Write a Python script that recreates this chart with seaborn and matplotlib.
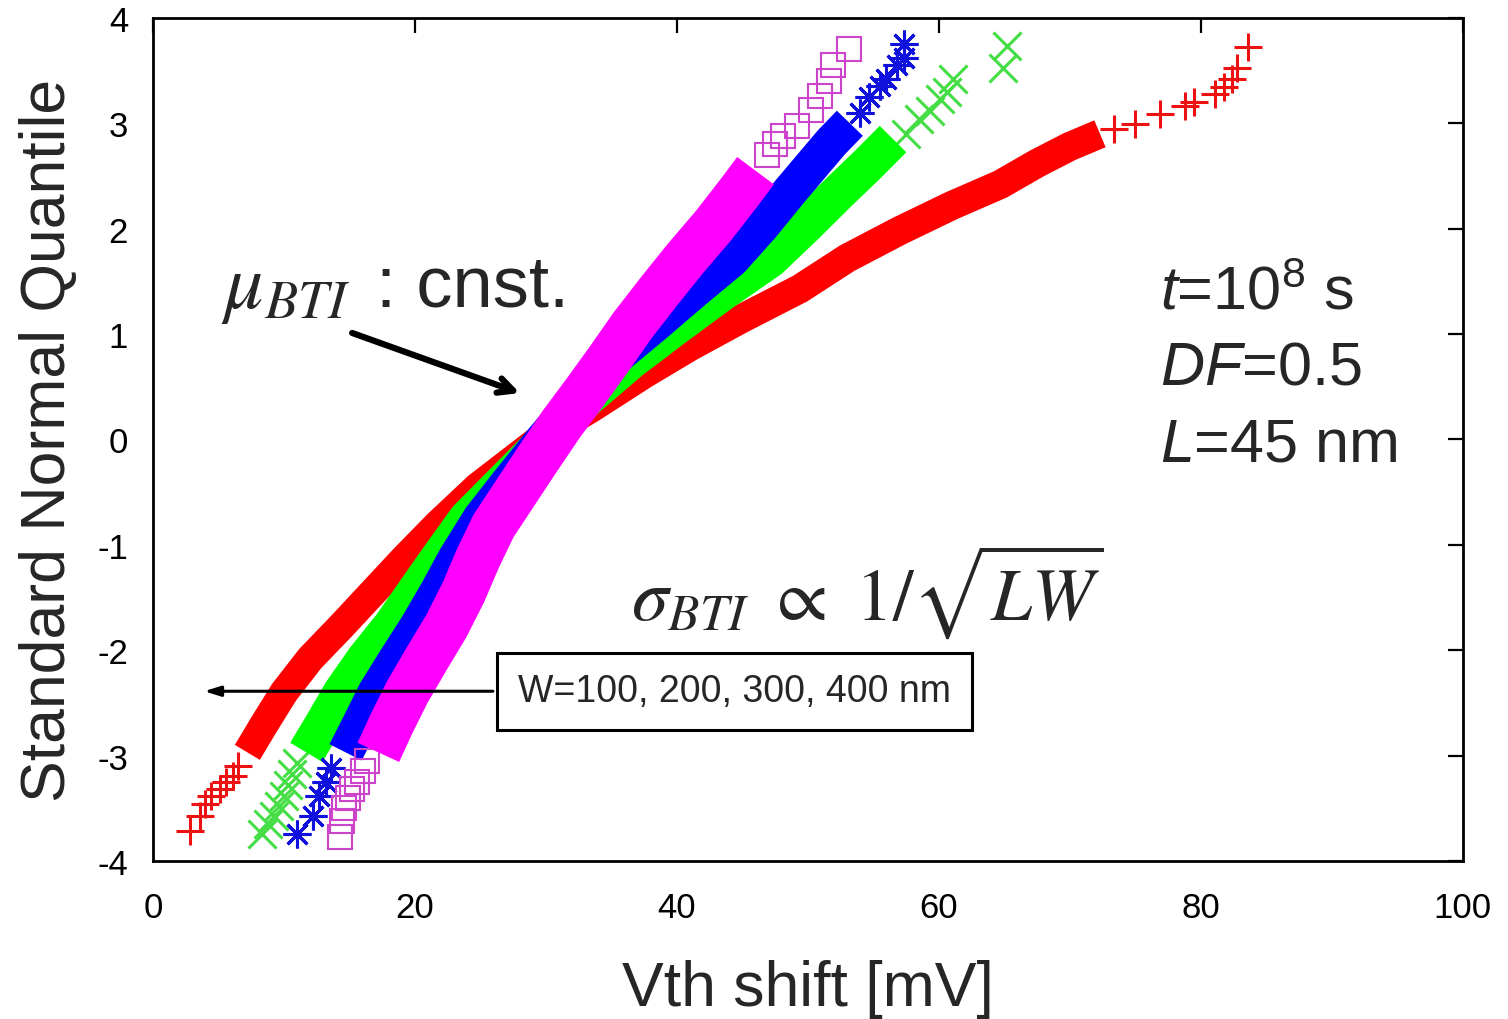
import matplotlib
matplotlib.use("Agg")
import matplotlib.pyplot as plt
import seaborn as sns
import numpy as np

# Vth shift [mV] and standard normal quantile
vth_w100 = [2.8, 3.6, 4.0, 4.4, 5.1, 5.6, 6.1, 6.5,
            7.2, 8.5, 10.0, 12.0, 14.4, 16.8, 19.2, 21.8, 24.8, 29.5, 33.5, 37.5, 41.0,
            45.0, 49.4, 53.0, 57.0, 61.0, 64.7, 67.5, 70.0, 72.3,
            73.4, 75.0, 76.9, 78.8, 79.5, 81.1, 81.8, 82.4, 82.8, 83.6]
q_w100 = [-3.72, -3.57, -3.46, -3.38, -3.32, -3.25, -3.19, -3.10,
          -2.97, -2.70, -2.40, -2.08, -1.77, -1.45, -1.13, -0.80, -0.45, 0.00, 0.30, 0.62, 0.88,
          1.15, 1.43, 1.72, 1.98, 2.22, 2.42, 2.62, 2.78, 2.90,
          2.95, 2.99, 3.09, 3.16, 3.20, 3.28, 3.34, 3.42, 3.52, 3.72]

vth_w200 = [8.3, 8.8, 9.2, 9.6, 10.0, 10.3, 10.6, 11.0,
            11.7, 13.0, 14.4, 16.2, 18.2, 20.0, 21.8, 24.0, 26.8, 30.0, 33.2, 36.5, 40.0,
            43.5, 47.1, 49.8, 52.4, 54.5, 56.5,
            57.5, 58.5, 59.3, 60.1, 60.6, 61.1, 64.9, 65.2]
q_w200 = [-3.74, -3.65, -3.57, -3.48, -3.38, -3.28, -3.18, -3.07,
          -2.97, -2.70, -2.40, -2.08, -1.77, -1.45, -1.13, -0.75, -0.40, 0.00, 0.40, 0.75, 1.08,
          1.40, 1.71, 2.03, 2.35, 2.60, 2.85,
          2.90, 3.04, 3.12, 3.23, 3.30, 3.42, 3.52, 3.73]

vth_w300 = [11.0, 12.2, 12.7, 13.2, 13.6,
            14.7, 15.8, 17.0, 18.6, 20.2, 21.7, 23.1, 25.0, 27.2, 29.8, 32.5, 35.0, 38.2,
            41.2, 44.2, 46.5, 48.6, 50.3, 51.8, 53.2,
            54.0, 54.7, 55.5, 56.0, 56.8, 57.3, 57.3]
q_w300 = [-3.74, -3.57, -3.38, -3.25, -3.12,
          -2.97, -2.70, -2.40, -2.08, -1.77, -1.45, -1.13, -0.75, -0.40, 0.00, 0.40, 0.75, 1.08,
          1.40, 1.71, 2.03, 2.35, 2.60, 2.82, 3.00,
          3.10, 3.25, 3.35, 3.42, 3.55, 3.62, 3.75]

vth_w400 = [14.3, 14.4, 14.6, 14.9, 15.2, 15.6, 16.0, 16.3,
            17.2, 18.2, 19.4, 20.9, 22.4, 23.7, 24.8, 26.0, 27.7, 29.4, 31.2, 33.0, 34.8,
            36.6, 38.6, 40.6, 42.8, 44.8, 46.0,
            46.9, 47.5, 48.1, 49.2, 50.2, 50.9, 51.6, 51.9, 53.1]
q_w400 = [-3.77, -3.62, -3.50, -3.40, -3.32, -3.25, -3.15, -3.05,
          -2.97, -2.70, -2.40, -2.08, -1.77, -1.45, -1.13, -0.82, -0.50, -0.18, 0.15, 0.45, 0.76,
          1.08, 1.40, 1.71, 2.03, 2.35, 2.55,
          2.70, 2.80, 2.88, 2.97, 3.13, 3.26, 3.40, 3.55, 3.70]

x_ticks = [0, 20, 40, 60, 80, 100]
y_ticks = [-4, -3, -2, -1, 0, 1, 2, 3, 4]

sns.set_theme(style="white")
plt.rcParams['font.family'] = ['Liberation Sans', 'DejaVu Sans']
plt.rcParams['mathtext.fontset'] = 'custom'
plt.rcParams['mathtext.rm'] = 'Liberation Sans'
plt.rcParams['mathtext.it'] = 'Liberation Sans:italic'
plt.rcParams['axes.unicode_minus'] = False

fig = plt.figure(figsize=(15.08, 10.2), dpi=100)
ax = fig.add_axes([0.1015, 0.155, 0.8685, 0.8265])

# (vth, q, band colour, marker, marker colour, band width in pt, band q-range)
series = [
    (vth_w100, q_w100, "#ff0000", "+", "#ee1111", 21, (-3.0, 2.9)),
    (vth_w200, q_w200, "#00ff00", "x", "#44dd44", 27, (-3.0, 2.86)),
    (vth_w300, q_w300, "#0000ff", (8, 2, 0), "#1111dd", 26, (-3.0, 3.0)),
    (vth_w400, q_w400, "#ff00ff", "s", "#cc44cc", 33, (-3.0, 2.56)),
]

for i, (vx, qy, col, mk, mcol, bw, (lo, hi)) in enumerate(series):
    vx = np.array(vx)
    qy = np.array(qy)
    band = (qy >= lo) & (qy <= hi)
    tail = ~band
    if mk == "s":
        sns.lineplot(x=vx[tail], y=qy[tail], estimator=None, sort=False, ax=ax, linestyle="",
                     marker="s", markersize=17, markerfacecolor="none",
                     markeredgecolor=mcol, markeredgewidth=1.5, zorder=2 + i)
    else:
        sns.lineplot(x=vx[tail], y=qy[tail], estimator=None, sort=False, ax=ax, linestyle="",
                     marker=mk, markersize=20, markeredgecolor=mcol,
                     markeredgewidth=2.2, zorder=2 + i)
    sns.lineplot(x=vx[band], y=qy[band], estimator=None, sort=False, ax=ax,
                 color=col, linewidth=bw, solid_capstyle="butt",
                 solid_joinstyle="round", zorder=2.5 + i)

ax.set_xlim(0, 100)
ax.set_ylim(-4, 4)
ax.set_xticks(x_ticks)
ax.set_yticks(y_ticks)
ax.tick_params(direction="in", length=11, width=1.6, top=True, right=True,
               labelsize=25, pad=18, colors="black")
ax.tick_params(axis="x", pad=22)
for s in ax.spines.values():
    s.set_linewidth(2.0)
    s.set_color("black")

ax.set_xlabel("Vth shift [mV]", fontsize=45, labelpad=25)
ax.set_ylabel("Standard Normal Quantile", fontsize=45, labelpad=14)

# annotations
ax.text(5.2, 1.26, r"$\mu_{BTI}$", fontsize=56, math_fontfamily="stix", va="baseline")
ax.text(17.0, 1.27, ": cnst.", fontsize=52, va="baseline")
ax.annotate("", xy=(28.0, 0.44), xytext=(15.2, 1.01),
            arrowprops=dict(arrowstyle="->,head_length=0.9,head_width=0.45",
                            lw=4.5, color="black", shrinkA=0, shrinkB=0))

ax.text(36.5, -1.70, r"$\sigma_{BTI}\ \propto\ 1/\sqrt{LW}$", fontsize=53,
        math_fontfamily="stix", va="baseline")

ax.text(76.9, 1.24, r"$\mathit{t}$=10$^{8}$ s", fontsize=44, va="baseline")
ax.text(76.9, 0.53, r"$\mathit{DF}$=0.5", fontsize=44, va="baseline")
ax.text(76.9, -0.20, r"$\mathit{L}$=45 nm", fontsize=44, va="baseline")

ax.text(44.4, -2.39, "W=100, 200, 300, 400 nm", fontsize=27, ha="center", va="center",
        bbox=dict(boxstyle="square,pad=0.55", facecolor="white", edgecolor="black", lw=2.2),
        zorder=10)
ax.annotate("", xy=(3.9, -2.39), xytext=(25.95, -2.39),
            arrowprops=dict(arrowstyle="-|>,head_length=0.8,head_width=0.25",
                            lw=2.2, color="black", shrinkA=0, shrinkB=0), zorder=9)

fig.savefig("out.png", dpi=100)
